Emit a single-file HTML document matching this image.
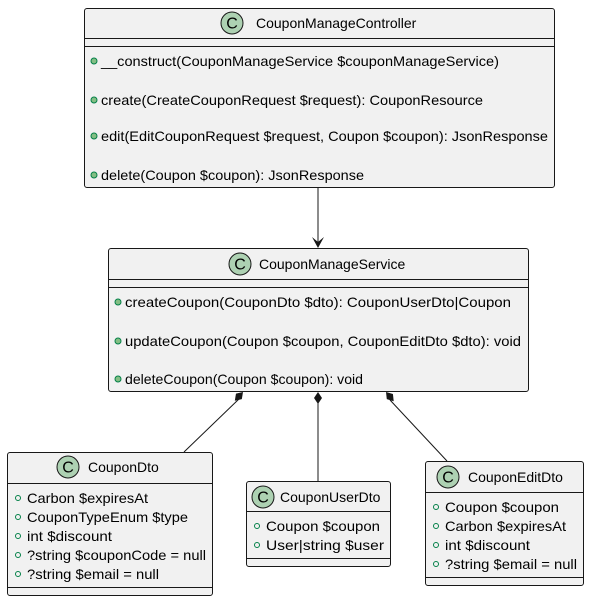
<!DOCTYPE html>
<html><head><meta charset="utf-8"><style>
html,body{margin:0;padding:0;background:#fff;}
svg text{font-family:"Liberation Sans","DejaVu Sans",sans-serif;fill:#000;}
</style></head><body>
<svg width="589" height="601" viewBox="0 0 589 601" xmlns="http://www.w3.org/2000/svg">
<defs>
<g id="cicon"><circle r="11" fill="#ADD1B2" stroke="#181818" stroke-width="1"/><text x="0" y="5.5" text-anchor="middle" font-size="16" style="fill:#000">C</text></g>
<polygon id="dia" points="0,0 4,6 0,12 -4,6" fill="#181818"/>
</defs>
<g stroke="#181818" stroke-width="1" fill="#F1F1F1">
<rect x="84.5" y="8.5" width="470" height="179" rx="2.5"/>
<rect x="108.5" y="248.5" width="420" height="143" rx="2.5"/>
<rect x="7.5" y="452.5" width="205" height="143" rx="2.5"/>
<rect x="246.5" y="481.5" width="144" height="85" rx="2.5"/>
<rect x="425.5" y="461.5" width="158" height="124" rx="2.5"/>
</g>
<g stroke="#181818" stroke-width="1">
<line x1="84" y1="38.5" x2="555" y2="38.5"/><line x1="84" y1="46.5" x2="555" y2="46.5"/>
<line x1="108" y1="279.5" x2="529" y2="279.5"/><line x1="108" y1="287.5" x2="529" y2="287.5"/>
<line x1="7" y1="483.5" x2="213" y2="483.5"/><line x1="7" y1="587.5" x2="213" y2="587.5"/>
<line x1="246" y1="511.5" x2="391" y2="511.5"/><line x1="246" y1="558.5" x2="391" y2="558.5"/>
<line x1="425" y1="492.5" x2="584" y2="492.5"/><line x1="425" y1="577.5" x2="584" y2="577.5"/>
<line x1="318" y1="188" x2="318" y2="246"/>
<line x1="240" y1="398" x2="184" y2="452"/>
<line x1="318" y1="403" x2="318" y2="481"/>
<line x1="390" y1="400" x2="447" y2="461"/>
</g>
<polygon points="318,248 312,237 318,242 324,237" fill="#181818"/>
<use href="#dia" transform="translate(243,392) rotate(43)"/>
<use href="#dia" transform="translate(318,392)"/>
<use href="#dia" transform="translate(386,392) rotate(-40)"/>
<use href="#cicon" x="232" y="23"/><text x="256" y="28" font-size="14">CouponManageController</text>
<use href="#cicon" x="240" y="264"/><text x="259" y="269" font-size="14">CouponManageService</text>
<use href="#cicon" x="68" y="467"/><text x="88" y="472" font-size="14">CouponDto</text>
<use href="#cicon" x="263" y="497"/><text x="280" y="502" font-size="14">CouponUserDto</text>
<use href="#cicon" x="448" y="477"/><text x="468" y="482" font-size="14">CouponEditDto</text>
<g fill="#84BE84" stroke="#038048" stroke-width="1">
<circle cx="94" cy="61" r="3"/><circle cx="94" cy="100" r="3"/><circle cx="94" cy="136" r="3"/><circle cx="94" cy="175" r="3"/>
<circle cx="118" cy="302" r="3"/><circle cx="118" cy="341" r="3"/><circle cx="118" cy="379" r="3"/>
</g>
<g fill="none" stroke="#038048" stroke-width="1">
<circle cx="18" cy="498" r="2.5"/><circle cx="18" cy="517" r="2.5"/><circle cx="18" cy="536" r="2.5"/><circle cx="18" cy="555" r="2.5"/><circle cx="18" cy="574" r="2.5"/>
<circle cx="257" cy="526" r="2.5"/><circle cx="257" cy="545" r="2.5"/>
<circle cx="436" cy="507" r="2.5"/><circle cx="436" cy="526" r="2.5"/><circle cx="436" cy="545" r="2.5"/><circle cx="436" cy="564" r="2.5"/>
</g>
<g font-size="14">
<text x="101" y="66" textLength="398" lengthAdjust="spacingAndGlyphs">__construct(CouponManageService $couponManageService)</text>
<text x="101" y="105" textLength="382" lengthAdjust="spacingAndGlyphs">create(CreateCouponRequest $request): CouponResource</text>
<text x="101" y="141" textLength="447" lengthAdjust="spacingAndGlyphs">edit(EditCouponRequest $request, Coupon $coupon): JsonResponse</text>
<text x="101" y="180" textLength="263" lengthAdjust="spacingAndGlyphs">delete(Coupon $coupon): JsonResponse</text>
<text x="125" y="307" textLength="386" lengthAdjust="spacingAndGlyphs">createCoupon(CouponDto $dto): CouponUserDto|Coupon</text>
<text x="125" y="346" textLength="396" lengthAdjust="spacingAndGlyphs">updateCoupon(Coupon $coupon, CouponEditDto $dto): void</text>
<text x="125" y="384" textLength="238" lengthAdjust="spacingAndGlyphs">deleteCoupon(Coupon $coupon): void</text>
<text x="27" y="503" textLength="121" lengthAdjust="spacingAndGlyphs">Carbon $expiresAt</text>
<text x="27" y="522" textLength="161" lengthAdjust="spacingAndGlyphs">CouponTypeEnum $type</text>
<text x="27" y="541" textLength="85" lengthAdjust="spacingAndGlyphs">int $discount</text>
<text x="27" y="560" textLength="179" lengthAdjust="spacingAndGlyphs">?string $couponCode = null</text>
<text x="27" y="579" textLength="132" lengthAdjust="spacingAndGlyphs">?string $email = null</text>
<text x="266" y="531" textLength="114" lengthAdjust="spacingAndGlyphs">Coupon $coupon</text>
<text x="266" y="550" textLength="118" lengthAdjust="spacingAndGlyphs">User|string $user</text>
<text x="445" y="512" textLength="114" lengthAdjust="spacingAndGlyphs">Coupon $coupon</text>
<text x="445" y="531" textLength="121" lengthAdjust="spacingAndGlyphs">Carbon $expiresAt</text>
<text x="445" y="550" textLength="85" lengthAdjust="spacingAndGlyphs">int $discount</text>
<text x="445" y="569" textLength="132" lengthAdjust="spacingAndGlyphs">?string $email = null</text>
</g>
</svg>
</body></html>
